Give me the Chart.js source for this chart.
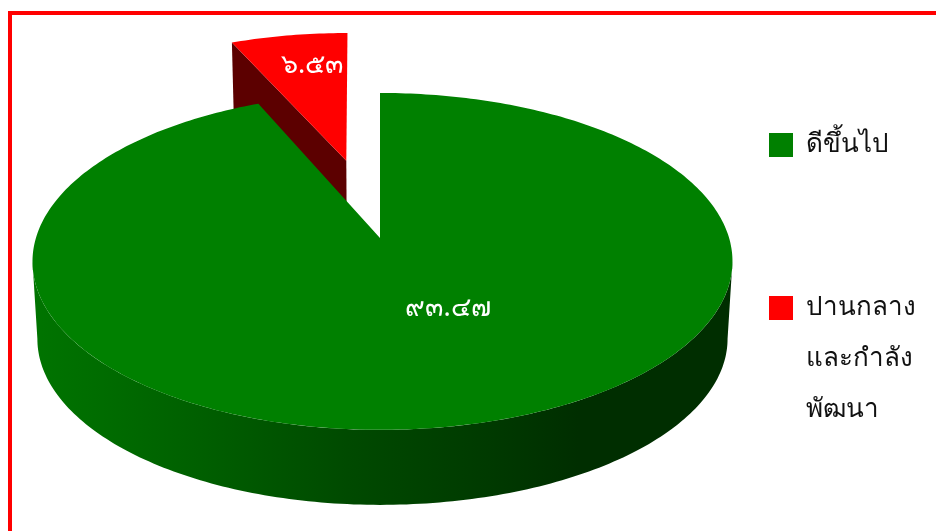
<!DOCTYPE html>
<html>
<head>
<meta charset="utf-8">
<script src="https://cdn.jsdelivr.net/npm/chart.js@4/dist/chart.umd.min.js"></script>
<style>
  html, body { margin: 0; padding: 0; background: #fff; overflow: hidden; }
  #frame { position: absolute; left: 8px; top: 11px; width: 928px; height: 520px; box-sizing: border-box;
           border-top: 4px solid #f00; border-left: 4px solid #f00; }
  #wrap { position: absolute; left: 0; top: 0; width: 936px; height: 531px; }
</style>
</head>
<body>
<div id="frame"></div>
<div id="wrap"><canvas id="pie" width="936" height="531"></canvas></div>
<script>
// data
const categories = [['ดีขึ้นไป'], ['ปานกลาง', 'และกำลัง', 'พัฒนา']];
const values = [93.47, 6.53];
const valueLabels = ['๙๓.๔๗', '๖.๕๓'];
const colors = ['#008000', '#ff0000'];

// มุมมอง 3 มิติ
const view = { cx: 380, cy: 238, rx: 346.6, ry: 165.2, p: 0.139, drop: 77.7, shrink: 0.986 };
const labelAt = [[448, 308], [312, 65]];

// จุดบนระนาบวงกลม -> จุดบนจอ
function project(u, v, low, pulled) {
    const s = 1 / (1 - view.p * v) * (low ? view.shrink : 1);
    const lean = pulled ? -2.7 * (-v - 0.49) : 2.5 * Math.abs(u);
    return [view.cx + lean + view.rx * u * s, view.cy + (low ? view.drop : 0) + view.ry * v * s];
}

function arcPoints(arc, from, to, low) {
    const mid = (arc.startAngle + arc.endAngle) / 2;
    const off = (arc.options.offset || 0) / arc.outerRadius;
    const pts = [];
    const n = Math.max(2, Math.ceil(Math.abs(to - from) * 60));
    for (let i = 0; i <= n; i++) {
        const a = from + (to - from) * i / n;
        pts.push(project(Math.cos(a) + off * Math.cos(mid), Math.sin(a) + off * Math.sin(mid), low, off > 0));
    }
    return pts;
}

function apexPoint(arc, low) {
    const mid = (arc.startAngle + arc.endAngle) / 2;
    const off = (arc.options.offset || 0) / arc.outerRadius;
    return project(off * Math.cos(mid), off * Math.sin(mid), low, off > 0);
}

function fillPoly(ctx, pts, fill) {
    ctx.beginPath();
    pts.forEach((p, i) => i ? ctx.lineTo(p[0], p[1]) : ctx.moveTo(p[0], p[1]));
    ctx.closePath();
    ctx.fillStyle = fill;
    ctx.fill();
}

const pie3d = {
    id: 'pie3d',
    beforeDatasetDraw(chart, args) {
        const ctx = chart.ctx;
        const arcs = chart.getDatasetMeta(args.index).data;
        // สีด้านข้าง
        const side = ctx.createLinearGradient(32, 0, 733, 0);
        side.addColorStop(0, '#007400');
        side.addColorStop(0.1, '#006c00');
        side.addColorStop(0.25, '#005e00');
        side.addColorStop(0.45, '#004a00');
        side.addColorStop(0.65, '#003a00');
        side.addColorStop(0.78, '#002e00');
        side.addColorStop(1, '#002e00');
        const edge = Math.asin(view.p);
        ctx.save();
        // ชิ้นที่ดึงออกวาดก่อน
        for (let i = arcs.length - 1; i >= 0; i--) {
            const arc = arcs[i];
            if (arc.options.offset > 0) {
                fillPoly(ctx, [arcPoints(arc, arc.startAngle, arc.startAngle, false)[0], apexPoint(arc, false),
                    apexPoint(arc, true), arcPoints(arc, arc.startAngle, arc.startAngle, true)[0]], '#5c0000');
            } else {
                const top = arcPoints(arc, edge, Math.PI - edge, false);
                const low = arcPoints(arc, Math.PI - edge, edge, true);
                fillPoly(ctx, top.concat(low), side);
            }
            fillPoly(ctx, [apexPoint(arc, false)].concat(arcPoints(arc, arc.startAngle, arc.endAngle, false)), colors[i]);
        }
        // ตัวเลข
        ctx.fillStyle = '#fff';
        ctx.font = '27px "Noto Sans", "Liberation Sans", sans-serif';
        ctx.textAlign = 'center';
        ctx.textBaseline = 'middle';
        valueLabels.forEach((t, i) => ctx.fillText(t, labelAt[i][0], labelAt[i][1]));
        ctx.restore();
        return false;
    }
};

new Chart(document.getElementById('pie'), {
    type: 'pie',
    data: {
        labels: categories,
        datasets: [{ data: values, backgroundColor: colors, borderWidth: 0, offset: [0, 102], hoverOffset: 0 }]
    },
    options: {
        responsive: false,
        animation: false,
        radius: 200,
        events: [],
        layout: { padding: { top: 122, right: 13, bottom: 0, left: 0 } },
        plugins: {
            tooltip: { enabled: false },
            legend: {
                position: 'right',
                align: 'start',
                labels: {
                    boxWidth: 24,
                    boxHeight: 24,
                    padding: 10,
                    color: '#111',
                    font: { family: '"Noto Sans", "Liberation Sans", sans-serif', size: 26, lineHeight: '51px' },
                    // ให้ทุกรายการสูงเท่ากัน 3 บรรทัด
                    generateLabels(chart) {
                        const items = Chart.overrides.pie.plugins.legend.labels.generateLabels(chart);
                        items.forEach(item => {
                            item.text = item.text.slice();
                            while (item.text.length < 3) item.text.push('');
                        });
                        return items;
                    }
                }
            }
        }
    },
    plugins: [pie3d]
});
</script>
</body>
</html>
